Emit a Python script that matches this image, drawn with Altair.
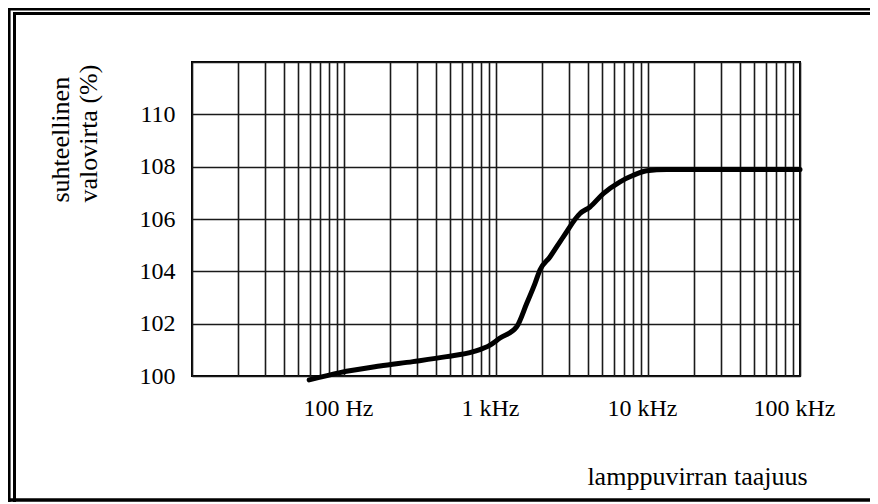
import altair as alt
import pandas as pd

# Curve (frequency in Hz, relative luminous flux in %)
freq_hz = [59, 94, 172, 284, 474, 710, 914, 1063, 1368, 1592, 1806, 1946,
           2264, 2771, 3572, 4152, 5080, 6546, 8000, 9790, 13270, 100000]
flux_pct = [99.85, 100.13, 100.38, 100.55, 100.74, 100.93, 101.18, 101.45,
            101.88, 102.77, 103.54, 104.05, 104.55, 105.32, 106.21, 106.46,
            106.97, 107.42, 107.67, 107.84, 107.89, 107.89]

x_grid = [m * 10 ** e for e in range(1, 5) for m in range(1, 10)] + [100000]
y_ticks = [100, 102, 104, 106, 108, 110, 112]
x_label_text = {100: "100 Hz", 1000: "1 kHz", 10000: "10 kHz", 100000: "100 kHz"}

df = pd.DataFrame({"f": freq_hz, "v": flux_pct})

FONT = "Liberation Serif"
W, H = 608, 314

label_expr = " : ".join(
    f"datum.value == {k} ? '{v}'" for k, v in x_label_text.items()
) + " : ''"

x_enc = alt.X(
    "f:Q",
    scale=alt.Scale(type="log", domain=[10, 100000], nice=False),
    axis=alt.Axis(
        values=x_grid, labelExpr=label_expr, grid=True, ticks=False, tickSize=0,
        domain=False, labelPadding=20, labelFontSize=24, labelFont=FONT,
        labelColor="black", labelOverlap=False, labelFlush=False, labelOffset=-6,
        title="lamppuvirran taajuus", titleFont=FONT, titleFontSize=26,
        titleFontWeight="normal", titleColor="black", titleX=505, titleY=100,
        titleAlign="center", titleBaseline="middle", titleAnchor="start",
    ),
)
y_enc = alt.Y(
    "v:Q",
    scale=alt.Scale(domain=[100, 112], nice=False, zero=False),
    axis=alt.Axis(
        values=y_ticks, labelExpr="datum.value >= 111 ? '' : datum.label",
        grid=True, ticks=False, tickSize=0, domain=False, labelPadding=17,
        labelFontSize=24, labelFont=FONT, labelColor="black",
        title=["suhteellinen", "valovirta (%)"], titleFont=FONT,
        titleFontSize=26, titleFontWeight="normal", titleColor="black",
        titleAngle=270, titleX=-132, titleY=140, titleAlign="left",
        titleBaseline="middle", titleLineHeight=28, titleAnchor="start",
    ),
)

curve = alt.Chart(df).mark_line(
    color="black", strokeWidth=5, interpolate="monotone", clip=False,
    strokeCap="round", strokeJoin="round",
).encode(x=x_enc, y=y_enc)

# Decorative double frame around the figure
frame_df = pd.DataFrame({"k": [0]})
base = alt.Chart(frame_df)
frame = alt.layer(
    base.mark_rule(color="black", strokeWidth=2.6).encode(
        x=alt.value(-182.7), y=alt.value(-54), y2=alt.value(440)),
    base.mark_rule(color="black", strokeWidth=3).encode(
        x=alt.value(-177.5), y=alt.value(-50), y2=alt.value(440)),
    base.mark_rule(color="black", strokeWidth=2.6).encode(
        x=alt.value(-184), x2=alt.value(700), y=alt.value(-52.7)),
    base.mark_rule(color="black", strokeWidth=3).encode(
        x=alt.value(-179), x2=alt.value(700), y=alt.value(-48.5)),
    base.mark_rule(color="black", strokeWidth=3.5).encode(
        x=alt.value(-184), x2=alt.value(700), y=alt.value(438)),
)

chart = alt.layer(curve, frame).properties(
    width=W, height=H,
    autosize=alt.AutoSizeParams(type="none"),
    padding={"left": 184, "top": 54, "right": 70, "bottom": 126},
    background="white",
).configure_view(
    stroke="black", strokeWidth=2,
).configure_axis(
    gridColor="#1a1a1a", gridWidth=1.6, gridOpacity=1,
)

chart.save("out.html", embed_options={"renderer": "svg", "actions": False})
